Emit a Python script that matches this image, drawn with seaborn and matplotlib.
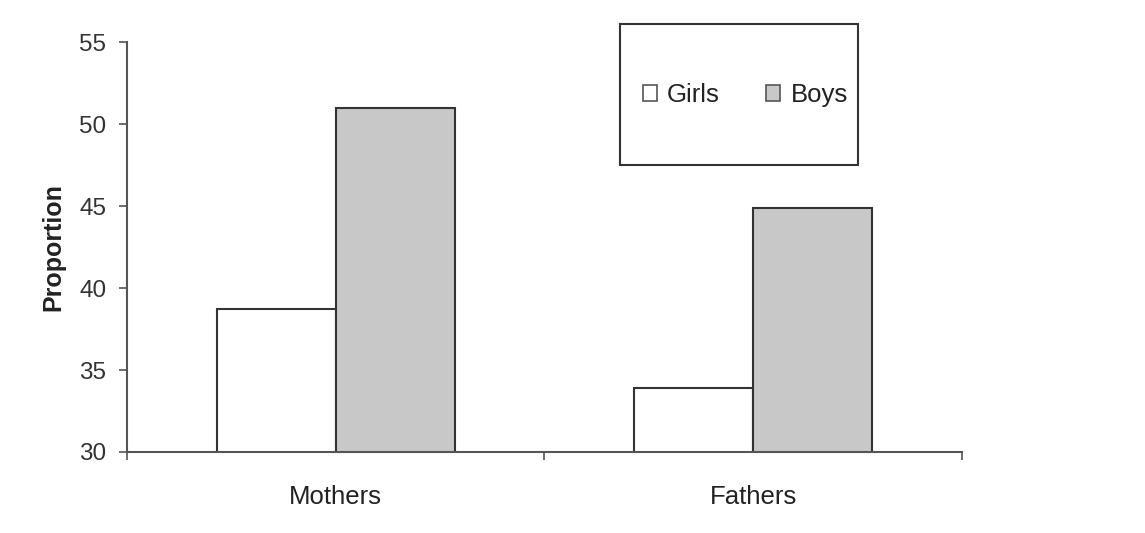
import pandas as pd
import matplotlib.pyplot as plt
import matplotlib.patches as mpatches
import seaborn as sns

# Data
groups = ["Mothers", "Fathers"]
girls = [38.7, 33.9]
boys = [51.0, 44.9]

df = pd.DataFrame({
    "Parent": groups * 2,
    "Sex": ["Girls"] * 2 + ["Boys"] * 2,
    "Proportion": girls + boys,
})

sns.set_style("white")
plt.rcParams["font.family"] = ["Liberation Sans", "DejaVu Sans"]

fig = plt.figure(figsize=(11.45, 5.33), dpi=100)
ax = fig.add_axes([0.111, 0.152, 0.729, 0.769])

sns.barplot(data=df, x="Parent", y="Proportion", hue="Sex",
            palette={"Girls": "white", "Boys": "#c8c8c8"},
            edgecolor="#333333", linewidth=1.5, width=0.57,
            legend=False, ax=ax)

ax.set_ylim(30, 55)
ax.set_yticks([30, 35, 40, 45, 50, 55])
ax.set_xlim(-0.5, 1.5)
ax.set_xticks([0, 1])
ax.set_xticklabels(groups)
ax.set_xticks([-0.5, 0.5, 1.5], minor=True)
ax.tick_params(axis="x", which="major", length=0, pad=24, labelsize=18.5, labelcolor="#222222")
ax.tick_params(axis="x", which="minor", bottom=True, length=6, width=1.2,
               color="#555555", direction="out")
ax.tick_params(axis="y", length=6, width=1.2, color="#555555", direction="out",
               left=True, labelsize=17.5, labelcolor="#333333", pad=9)
ax.set_xlabel("")
ax.set_ylabel("Proportion", fontsize=18, fontweight="bold", color="#222222", labelpad=10)

for side in ["top", "right"]:
    ax.spines[side].set_visible(False)
for side in ["left", "bottom"]:
    ax.spines[side].set_color("#555555")
    ax.spines[side].set_linewidth(1.5)

# legend box
box = mpatches.Rectangle((0.5415, 0.690), 0.2075, 0.265, transform=fig.transFigure,
                         fill=False, edgecolor="#333333", linewidth=1.5)
fig.patches.append(box)
handles = [mpatches.Patch(facecolor="white", edgecolor="#555555", linewidth=1.2, label="Girls"),
           mpatches.Patch(facecolor="#c8c8c8", edgecolor="#555555", linewidth=1.2, label="Boys")]
fig.legend(handles=handles, loc="center", bbox_to_anchor=(0.651, 0.822), ncol=2,
           frameon=False, fontsize=18.5, handlelength=0.55, handleheight=0.55,
           handletextpad=0.4, columnspacing=1.8, labelcolor="#222222")

fig.savefig("out.png", dpi=100)
